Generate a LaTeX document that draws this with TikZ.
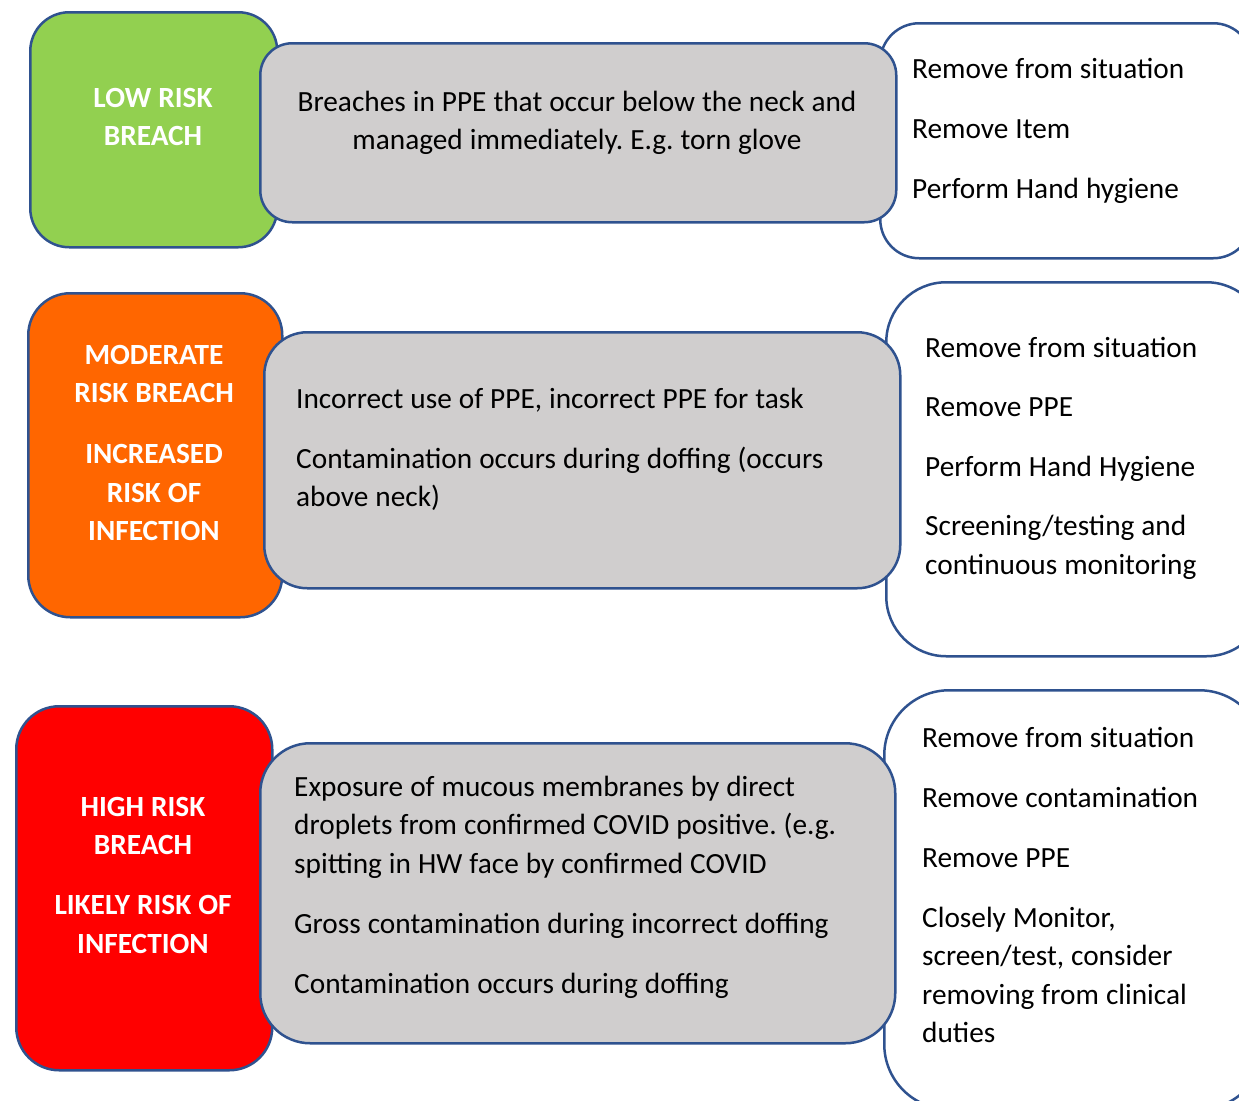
\documentclass[tikz,border=0pt]{standalone}
\usepackage{fontspec}
\setmainfont{Carlito}
\frenchspacing
\newcommand{\bodyfont}{\fontsize{29.3}{38.5}\selectfont}
\newcommand{\wsp}{\spaceskip=7pt\relax\xspaceskip=7pt\relax}
\definecolor{bordc}{HTML}{2F528F}
\definecolor{lowg}{HTML}{92D050}
\definecolor{modo}{HTML}{FF6600}
\definecolor{highr}{HTML}{FF0000}
\definecolor{greyf}{HTML}{D0CECE}
\begin{document}
\begin{tikzpicture}[x=1pt,y=-1pt,
  box/.style={draw=bordc, line width=2.5pt, inner sep=0pt, anchor=north west},
  lbl/.style={inner sep=0pt, anchor=base, text width=250pt, align=center, text=white,
              font=\bfseries\bodyfont},
  ctxt/.style={inner sep=0pt, anchor=base, text width=620pt, align=center,
              font=\bodyfont},
  ltxt/.style={inner sep=0pt, anchor=base west, text width=#1, align=left,
              font=\bodyfont},
  ltxt/.default=600pt]
\useasboundingbox (0,0) rectangle (1239,1100);
\clip (0,0) rectangle (1239,1100);
% Row 1
\node[box, fill=lowg, minimum width=247pt, minimum height=235pt, rounded corners=39pt] (c1) at (29,11) {};
\node[box, fill=white, minimum width=372pt, minimum height=235pt, rounded corners=39pt] (w1) at (879,22) {};
\node[box, fill=greyf, minimum width=636pt, minimum height=179pt, rounded corners=32pt] (g1) at (259,42) {};
\node[lbl] (c1t) at (153,107) {\wsp LOW RISK\\BREACH};
\node[ctxt] (g1t) at (577,111) {\wsp Breaches in PPE that occur below the neck and\\managed immediately. E.g. torn glove};
\node[ltxt=330pt] (w1t) at (912,78) {\wsp Remove from situation\\[21.5pt]Remove Item\\[21.5pt]Perform Hand hygiene};
% Row 2
\node[box, fill=modo, minimum width=254pt, minimum height=324pt, rounded corners=42pt] (c2) at (27,292) {};
\node[box, fill=white, minimum width=380pt, minimum height=374pt, rounded corners=60pt] (w2) at (885,281) {};
\node[box, fill=greyf, minimum width=636pt, minimum height=256pt, rounded corners=43pt] (g2) at (263,331) {};
\node[lbl] (c2t) at (154,364) {\wsp MODERATE\\RISK BREACH\\[22.5pt]INCREASED\\RISK OF\\INFECTION};
\node[ltxt] (g2t) at (296,408) {\wsp Incorrect use of PPE, incorrect PPE for task\\[21.5pt]Contamination occurs during doffing (occurs\\above neck)};
\node[ltxt=330pt] (w2t) at (925,357) {\wsp Remove from situation\\[21pt]Remove PPE\\[21pt]Perform Hand Hygiene\\[21pt]Screening/testing and\\continuous monitoring};
% Row 3
\node[box, fill=highr, minimum width=256pt, minimum height=364pt, rounded corners=43pt] (c3) at (15,705) {};
\node[box, fill=white, minimum width=380pt, minimum height=419pt, rounded corners=65pt] (w3) at (883,689) {};
\node[box, fill=greyf, minimum width=635pt, minimum height=300pt, rounded corners=50pt] (g3) at (259,742) {};
\node[lbl] (c3t) at (143,816) {\wsp HIGH RISK\\BREACH\\[21.5pt]LIKELY RISK OF\\INFECTION};
\node[ltxt] (g3t) at (294,796) {\wsp Exposure of mucous membranes by direct\\droplets from confirmed COVID positive. (e.g.\\spitting in HW face by confirmed COVID\\[21.5pt]Gross contamination during incorrect doffing\\[21.5pt]Contamination occurs during doffing};
\node[ltxt=330pt] (w3t) at (922,747) {\wsp Remove from situation\\[21.5pt]Remove contamination\\[21.5pt]Remove PPE\\[21.5pt]Closely Monitor,\\screen/test, consider\\removing from clinical\\duties};
\end{tikzpicture}
\end{document}
